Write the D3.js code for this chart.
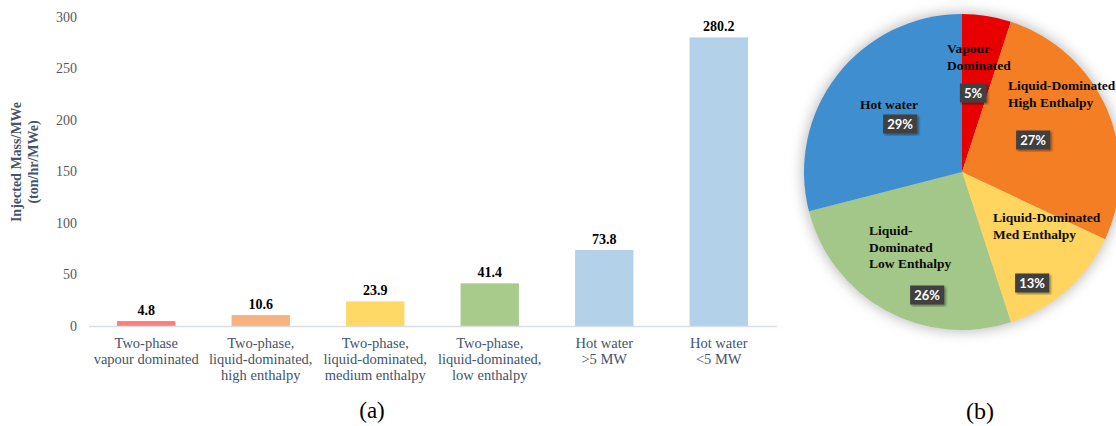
<!DOCTYPE html>
<html>
<head>
<meta charset="utf-8">
<script src="https://cdn.jsdelivr.net/npm/d3@7"></script>
<style>
  body { margin: 0; background: #fff; }
  svg { display: block; }
</style>
</head>
<body>
<div id="chart"></div>
<script>
const width = 1116
const height = 426

// bar chart (a)
const categories = [
  ['Two-phase', 'vapour dominated'],
  ['Two-phase,', 'liquid-dominated,', 'high enthalpy'],
  ['Two-phase,', 'liquid-dominated,', 'medium enthalpy'],
  ['Two-phase,', 'liquid-dominated,', 'low enthalpy'],
  ['Hot water', '>5 MW'],
  ['Hot water', '<5 MW']
]
const injected = [4.8, 10.6, 23.9, 41.4, 73.8, 280.2]
const barColors = ['#ff7c7c', '#f8b27f', '#ffd966', '#a8cb8c', '#b4d1ea', '#b4d1ea']
const yTicks = [0, 50, 100, 150, 200, 250, 300]

// pie chart (b)
const pieNames = [
  ['Vapour-', 'Dominated'],
  ['Liquid-Dominated', 'High Enthalpy'],
  ['Liquid-Dominated', 'Med Enthalpy'],
  ['Liquid-', 'Dominated', 'Low Enthalpy'],
  ['Hot water']
]
const pieShares = [5, 27, 13, 26, 29]
const pieColors = ['#e80000', '#f47e24', '#ffd560', '#a3c689', '#3f8fd0']
// where each slice's name and % box sit, offsets from the pie centre
const nameOffset = [[-15, -119], [46, -82], [31, 50], [-93, 63], [-102, -63]]
const boxOffset = [[11, -79], [71, -32], [70, 111], [-35, 123], [-62, -48]]

const svg = d3.select('#chart')
  .append('svg')
  .attr('width', width)
  .attr('height', height)

const serif = '"Liberation Serif", "Times New Roman", serif'

// ---- bars ----
const x = d3.scaleBand()
  .domain(d3.range(injected.length))
  .range([89, 776])
  .paddingInner(0.49)
  .paddingOuter(0.245)

const y = d3.scaleLinear()
  .domain([0, 300])
  .range([326, 17])

const yAxis = svg.append('g')
  .attr('transform', 'translate(80,0)')
  .call(d3.axisLeft(y).tickValues(yTicks).tickSize(0).tickPadding(3))
yAxis.select('.domain').remove()
yAxis.selectAll('text')
  .attr('fill', '#595959')
  .style('font-family', serif)
  .style('font-size', '14px')

svg.selectAll('.bar')
  .data(injected)
  .enter().append('rect')
  .attr('class', 'bar')
  .attr('x', (d, i) => x(i))
  .attr('y', d => y(d))
  .attr('width', x.bandwidth())
  .attr('height', d => y(0) - y(d))
  .attr('fill', (d, i) => barColors[i])

svg.append('line')
  .attr('x1', 89).attr('x2', 777)
  .attr('y1', y(0) + 0.5).attr('y2', y(0) + 0.5)
  .attr('stroke', '#d9dde6')
  .attr('stroke-width', 1.5)

svg.selectAll('.val')
  .data(injected)
  .enter().append('text')
  .attr('class', 'val')
  .attr('x', (d, i) => x(i) + x.bandwidth() / 2)
  .attr('y', d => y(d) - 6)
  .attr('text-anchor', 'middle')
  .style('font-family', serif)
  .style('font-size', '14px')
  .style('font-weight', 'bold')
  .text(d => d)

const cat = svg.selectAll('.cat')
  .data(categories)
  .enter().append('text')
  .attr('class', 'cat')
  .attr('text-anchor', 'middle')
  .attr('fill', '#44546a')
  .style('font-family', serif)
  .style('font-size', '14.5px')
cat.selectAll('tspan')
  .data((d, i) => d.map(t => ({ t, i })))
  .enter().append('tspan')
  .attr('x', d => x(d.i) + x.bandwidth() / 2)
  .attr('y', (d, j) => 348 + j * 16)
  .text(d => d.t)

const ytitle = svg.append('text')
  .attr('transform', 'translate(16,162) rotate(-90)')
  .attr('text-anchor', 'middle')
  .attr('fill', '#44546a')
  .style('font-family', serif)
  .style('font-size', '14px')
  .style('font-weight', 'bold')
ytitle.append('tspan').attr('x', 0).attr('dy', 5).text('Injected Mass/MWe')
ytitle.append('tspan').attr('x', 0).attr('dy', 17).text('(ton/hr/MWe)')

svg.append('text')
  .attr('x', 372).attr('y', 418)
  .attr('text-anchor', 'middle')
  .style('font-family', serif)
  .style('font-size', '23px')
  .text('(a)')

// ---- pie ----
const cx = 962
const cy = 172
const r = 158

const defs = svg.append('defs')
defs.append('filter').attr('id', 'halo')
  .attr('x', '-20%').attr('y', '-20%').attr('width', '140%').attr('height', '140%')
  .append('feGaussianBlur').attr('stdDeviation', 6)
const ds = defs.append('filter').attr('id', 'boxShadow')
ds.append('feDropShadow')
  .attr('dx', 1.5).attr('dy', 1.5).attr('stdDeviation', 1.2)
  .attr('flood-color', '#000').attr('flood-opacity', 0.45)

const pg = svg.append('g').attr('transform', `translate(${cx},${cy})`)

pg.append('circle')
  .attr('r', r + 3)
  .attr('fill', '#c8c8c8')
  .attr('filter', 'url(#halo)')

const pie = d3.pie().sort(null).value(d => d)
const arc = d3.arc().innerRadius(0).outerRadius(r)
const slices = pie(pieShares)

pg.selectAll('.slice')
  .data(slices)
  .enter().append('path')
  .attr('class', 'slice')
  .attr('d', arc)
  .attr('fill', (d, i) => pieColors[i])

const names = pg.selectAll('.pname')
  .data(pieNames)
  .enter().append('text')
  .attr('class', 'pname')
  .style('font-family', serif)
  .style('font-size', '13.5px')
  .style('font-weight', 'bold')
  .attr('fill', '#0a0a0a')
names.selectAll('tspan')
  .data((d, i) => d.map(t => ({ t, i })))
  .enter().append('tspan')
  .attr('x', d => nameOffset[d.i][0])
  .attr('y', (d, j) => nameOffset[d.i][1] + j * 16.5)
  .text(d => d.t)

const boxes = pg.selectAll('.pbox')
  .data(slices)
  .enter().append('g')
  .attr('class', 'pbox')
  .attr('transform', (d, i) => `translate(${boxOffset[i][0]},${boxOffset[i][1]})`)

boxes.append('text')
  .attr('text-anchor', 'middle')
  .attr('dy', '0.36em')
  .attr('fill', '#fff')
  .style('font-family', 'Lato, "Noto Sans", sans-serif')
  .style('font-size', '13px')
  .style('font-weight', 'bold')
  .text(d => d.data + '%')
  .each(function() {
    const bb = this.getBBox()
    d3.select(this.parentNode).insert('rect', 'text')
      .attr('x', bb.x - 4)
      .attr('y', -9.5)
      .attr('width', bb.width + 8)
      .attr('height', 19)
      .attr('fill', '#404040')
      .attr('filter', 'url(#boxShadow)')
  })

svg.append('text')
  .attr('x', 980).attr('y', 419)
  .attr('text-anchor', 'middle')
  .style('font-family', serif)
  .style('font-size', '24px')
  .text('(b)')
</script>
</body>
</html>
